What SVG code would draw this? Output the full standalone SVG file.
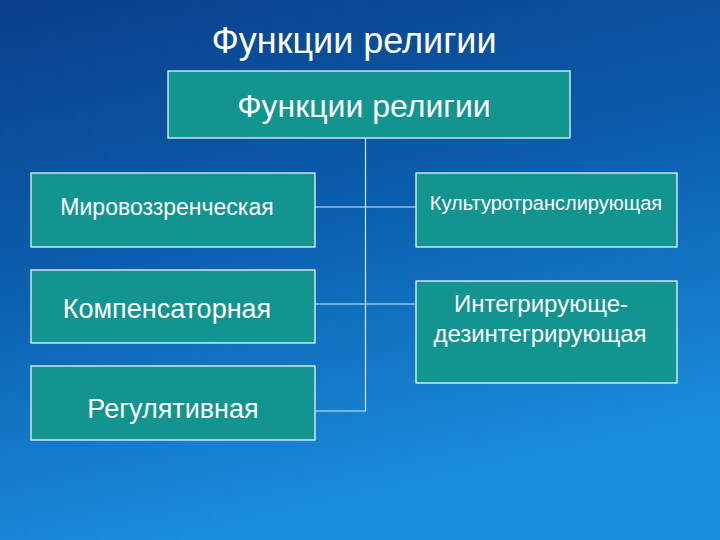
<svg xmlns="http://www.w3.org/2000/svg" width="720" height="540" viewBox="0 0 720 540">
<defs>
<linearGradient id="bg" x1="0" y1="0" x2="0.3" y2="1">
<stop offset="0" stop-color="#0a3f8a"/>
<stop offset="0.5" stop-color="#0b5fb0"/>
<stop offset="1" stop-color="#1a8fdc"/>
</linearGradient>
<style>
.box{fill:#12958f;stroke:#e8f4f4;stroke-width:1.3}
.ln{stroke:#d8e8ee;stroke-width:1.2;fill:none}
text{font-family:"Liberation Sans",Arial,sans-serif;fill:#ffffff;text-anchor:middle}
</style>
</defs>
<rect width="720" height="540" fill="url(#bg)"/>
<text x="354" y="53" font-size="36">Функции религии</text>
<g id="connectors">
<path class="ln" d="M365.5 138V411H315M315 207H416M315 304H416"/>
</g>
<g id="root"><rect class="box" x="168" y="71" width="402" height="67"/><text x="364" y="117" font-size="32">Функции религии</text></g>
<g id="n1"><rect class="box" x="31" y="173" width="284" height="74"/><text x="167" y="215" font-size="23">Мировоззренческая</text></g>
<g id="n2"><rect class="box" x="31" y="270" width="284" height="73"/><text x="167" y="318" font-size="27">Компенсаторная</text></g>
<g id="n3"><rect class="box" x="31" y="366" width="284" height="74"/><text x="173" y="418" font-size="27">Регулятивная</text></g>
<g id="n4"><rect class="box" x="416" y="173" width="261" height="74"/><text x="546" y="210" font-size="20">Культуротранслирующая</text></g>
<g id="n5"><rect class="box" x="416" y="281" width="261" height="102"/><text x="541" y="312" font-size="24">Интегрирующе-</text><text x="540" y="342" font-size="24">дезинтегрирующая</text></g>
</svg>
